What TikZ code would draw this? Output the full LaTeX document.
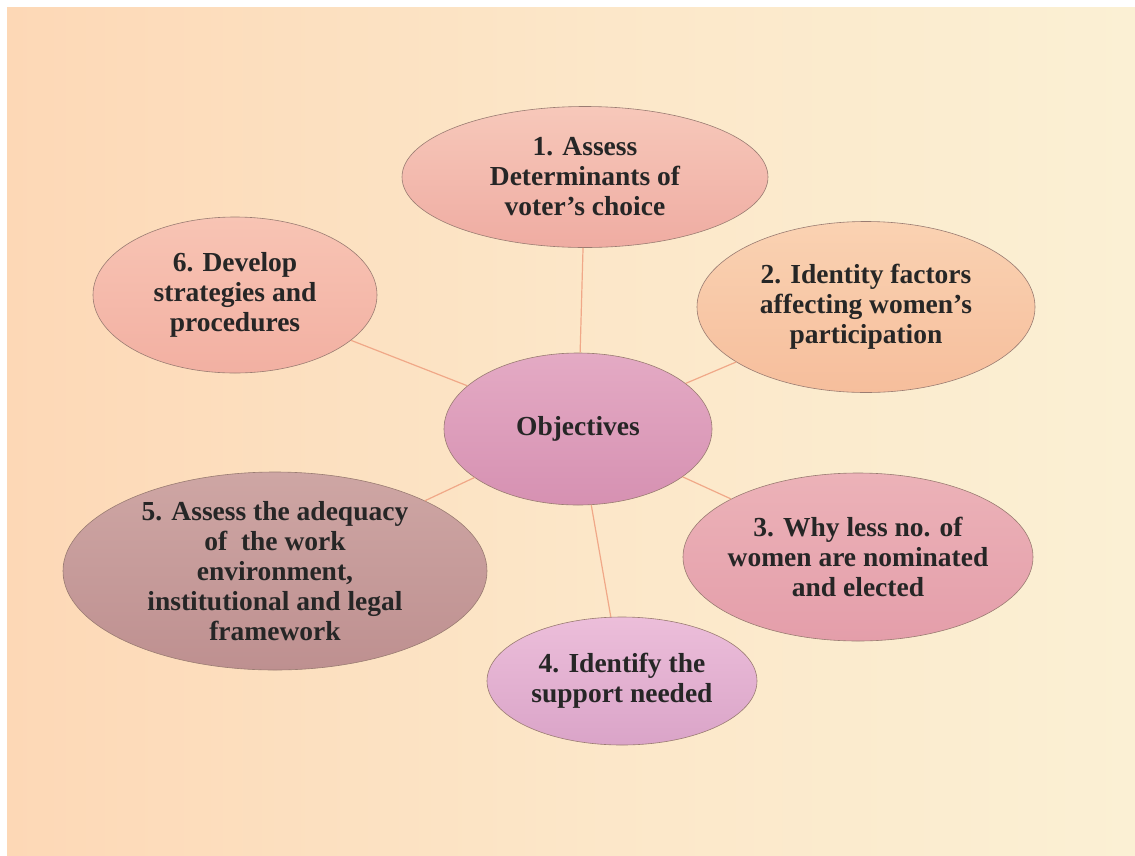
\documentclass[tikz,border=0pt]{standalone}
\usepackage{fontspec}
\setmainfont{Liberation Serif}
\usetikzlibrary{shapes.geometric}

\definecolor{bgpeach}{HTML}{FDD8B6}
\definecolor{bgcream}{HTML}{FBF0D4}
\definecolor{linkcol}{HTML}{F0A888}
\definecolor{rimcol}{HTML}{9A7C72}

\begin{document}
\begin{tikzpicture}[
  x=1pt, y=-1pt,
  bubble/.style={ellipse, draw=rimcol, line width=0.6pt, inner sep=-25pt,
    align=center, font=\fontsize{27.5}{30}\selectfont\bfseries, text=black!85},
  link/.style={draw=linkcol, line width=1.2pt}
]

% background
\useasboundingbox (0,0) rectangle (1135,855);
\shade[left color=bgpeach, right color=bgcream, middle color=bgcream!60!bgpeach]
  (7,7) rectangle (1135,855);
\fill[white] (0,0) rectangle (1135,7);
\fill[white] (0,0) rectangle (7,855);

% objectives
\node[bubble, minimum width=268, minimum height=152,
  top color={rgb,255:red,228;green,170;blue,196}, bottom color={rgb,255:red,214;green,145;blue,178}]
  (obj) at (578,429) {Objectives};

\node[bubble, minimum width=366, minimum height=141,
  top color={rgb,255:red,247;green,200;blue,186}, bottom color={rgb,255:red,239;green,172;blue,162}]
  (o1) at (585,177) {1. Assess\\Determinants of\\voter's choice};

\node[bubble, minimum width=338, minimum height=171,
  top color={rgb,255:red,250;green,210;blue,178}, bottom color={rgb,255:red,246;green,190;blue,156}]
  (o2) at (866,307) {2. Identity factors\\affecting women's\\participation};

\node[bubble, minimum width=350, minimum height=168,
  top color={rgb,255:red,236;green,178;blue,184}, bottom color={rgb,255:red,228;green,158;blue,170}]
  (o3) at (858,557) {3. Why less no. of\\women are nominated\\and elected};

\node[bubble, minimum width=270, minimum height=128,
  top color={rgb,255:red,236;green,190;blue,218}, bottom color={rgb,255:red,218;green,164;blue,200}]
  (o4) at (622,681) {4. Identify the\\support needed};

\node[bubble, minimum width=424, minimum height=198,
  top color={rgb,255:red,206;green,166;blue,164}, bottom color={rgb,255:red,190;green,144;blue,144}]
  (o5) at (275,571) {5. Assess the adequacy\\of\ \ the work\\environment,\\institutional and legal\\framework};

\node[bubble, minimum width=284, minimum height=156,
  top color={rgb,255:red,248;green,196;blue,180}, bottom color={rgb,255:red,242;green,176;blue,162}]
  (o6) at (235,295) {6. Develop\\strategies and\\procedures};

% spokes
\foreach \n in {o1,o2,o3,o4,o5,o6}
  \draw[link] (obj) -- (\n);

\end{tikzpicture}
\end{document}
